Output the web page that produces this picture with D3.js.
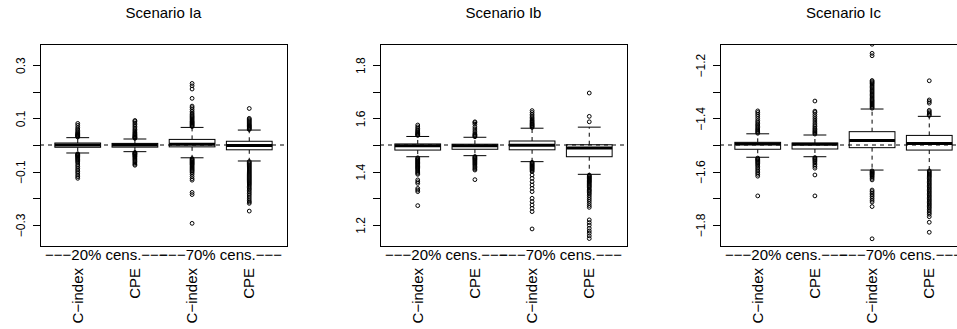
<!DOCTYPE html>
<html>
<head>
<meta charset="utf-8">
<script src="https://cdn.jsdelivr.net/npm/d3@7"></script>
<style>
  body { margin: 0; background: #fff; }
  text { font-family: 'Liberation Sans', Arial, Helvetica, sans-serif; fill: #000; }
</style>
</head>
<body>
<div id="chart"></div>
<script>
// data
const panelTitles = ['Scenario Ia', 'Scenario Ib', 'Scenario Ic'];
const categories = ['C\u2212index', 'CPE', 'C\u2212index', 'CPE'];
const censLabels = ['\u2212\u2212\u221220% cens.\u2212\u2212\u2212', '\u2212\u2212\u221270% cens.\u2212\u2212\u2212'];
const trueValues = [0, 1.5, -1.5];
const yDomains = [[-0.379, 0.379], [1.121, 1.879], [-1.879, -1.121]];
const yTicks = [
  [-0.3, -0.2, -0.1, 0, 0.1, 0.2, 0.3],
  [1.2, 1.3, 1.4, 1.5, 1.6, 1.7, 1.8],
  [-1.8, -1.7, -1.6, -1.5, -1.4, -1.3, -1.2]
];
const yTickLabels = [
  [-0.3, -0.1, 0.1, 0.3],
  [1.2, 1.4, 1.6, 1.8],
  [-1.8, -1.6, -1.4, -1.2]
];

// box stats: [lower whisker, q1, median, q3, upper whisker]
const statsIa = [
  [-0.030, -0.0085, 0.000, 0.0075, 0.0275],
  [-0.025, -0.008, 0.000, 0.006, 0.0225],
  [-0.048, -0.007, 0.003, 0.021, 0.066],
  [-0.060, -0.018, -0.002, 0.014, 0.056]
];
const statsIb = [
  [1.456, 1.481, 1.497, 1.504, 1.532],
  [1.460, 1.484, 1.497, 1.503, 1.529],
  [1.4375, 1.482, 1.499, 1.515, 1.563],
  [1.390, 1.456, 1.489, 1.501, 1.567]
];
const statsIc = [
  [-1.546, -1.516, -1.496, -1.490, -1.458],
  [-1.544, -1.515, -1.497, -1.4925, -1.4625],
  [-1.594, -1.510, -1.483, -1.450, -1.365],
  [-1.594, -1.519, -1.494, -1.464, -1.3925]
];

const outliersIa = [
  [0.030, 0.032, 0.034, 0.036, 0.038, 0.040, 0.043, 0.046, 0.050, 0.055, 0.060, 0.066, 0.074, 0.081,
   -0.033, -0.035, -0.037, -0.039, -0.041, -0.043, -0.046, -0.049, -0.052, -0.055, -0.059, -0.063,
   -0.068, -0.075, -0.081, -0.088, -0.094, -0.100, -0.106, -0.113, -0.119, -0.125],
  [0.025, 0.027, 0.029, 0.031, 0.034, 0.037, 0.040, 0.044, 0.048, 0.053, 0.058, 0.064, 0.070, 0.076,
   0.082, 0.088, 0.092, -0.028, -0.030, -0.032, -0.034, -0.036, -0.039, -0.042, -0.045, -0.049,
   -0.053, -0.057, -0.062, -0.067, -0.072, -0.076],
  [0.069, 0.072, 0.075, 0.078, 0.081, 0.084, 0.087, 0.090, 0.094, 0.098, 0.102, 0.106, 0.110, 0.115,
   0.120, 0.126, 0.133, 0.140, 0.146, 0.175, 0.210, 0.222, 0.231,
   -0.051, -0.054, -0.057, -0.060, -0.063, -0.066, -0.069, -0.072, -0.075, -0.079, -0.083, -0.087,
   -0.091, -0.095, -0.099, -0.104, -0.110, -0.118, -0.126, -0.132, -0.178, -0.186, -0.294],
  [0.058, 0.061, 0.064, 0.067, 0.070, 0.073, 0.076, 0.080, 0.084, 0.088, 0.092, 0.096, 0.100, 0.137,
   -0.062, -0.066, -0.070, -0.074, -0.078, -0.082, -0.086, -0.090, -0.094, -0.098, -0.102, -0.106,
   -0.110, -0.114, -0.118, -0.122, -0.126, -0.130, -0.134, -0.138, -0.142, -0.146, -0.150, -0.155,
   -0.160, -0.165, -0.170, -0.176, -0.182, -0.188, -0.195, -0.202, -0.209, -0.214, -0.219, -0.248]
];
const outliersIb = [
  [1.536, 1.538, 1.540, 1.543, 1.546, 1.549, 1.553, 1.557, 1.562, 1.568, 1.575,
   1.452, 1.449, 1.446, 1.443, 1.440, 1.437, 1.434, 1.431, 1.428, 1.425, 1.422, 1.419, 1.416, 1.413,
   1.410, 1.406, 1.402, 1.398, 1.394, 1.390, 1.369, 1.362, 1.356, 1.337, 1.331, 1.325, 1.2725],
  [1.531, 1.534, 1.537, 1.540, 1.545, 1.552, 1.560, 1.568, 1.578, 1.584, 1.587,
   1.457, 1.454, 1.451, 1.448, 1.445, 1.441, 1.437, 1.433, 1.429, 1.425, 1.420, 1.415, 1.410, 1.406, 1.370],
  [1.566, 1.569, 1.572, 1.575, 1.578, 1.581, 1.585, 1.589, 1.593, 1.598, 1.603, 1.609, 1.615, 1.622, 1.629,
   1.435, 1.432, 1.429, 1.426, 1.423, 1.420, 1.417, 1.414, 1.411, 1.408, 1.404, 1.400, 1.3875, 1.375,
   1.3625, 1.350, 1.3375, 1.325, 1.300, 1.2875, 1.275, 1.2625, 1.250, 1.185],
  [1.587, 1.6075, 1.695,
   1.387, 1.384, 1.381, 1.378, 1.375, 1.372, 1.369, 1.366, 1.363, 1.360, 1.356, 1.352, 1.348, 1.344,
   1.340, 1.334, 1.330, 1.326, 1.321, 1.316, 1.310, 1.303, 1.296, 1.289, 1.281, 1.273, 1.266,
   1.219, 1.209, 1.199, 1.1875, 1.1775, 1.169, 1.159, 1.149]
];
const outliersIc = [
  [-1.456, -1.452, -1.448, -1.444, -1.440, -1.435, -1.430, -1.425, -1.420, -1.414, -1.408, -1.400,
   -1.392, -1.385, -1.378, -1.372, -1.549, -1.552, -1.555, -1.558, -1.562, -1.566, -1.570, -1.575,
   -1.580, -1.586, -1.592, -1.598, -1.604, -1.610, -1.617, -1.691],
  [-1.459, -1.455, -1.451, -1.447, -1.442, -1.437, -1.431, -1.425, -1.418, -1.410, -1.402, -1.394,
   -1.386, -1.378, -1.373, -1.335, -1.547, -1.550, -1.554, -1.558, -1.563, -1.568, -1.574, -1.580,
   -1.587, -1.6125, -1.691],
  [-1.362, -1.358, -1.354, -1.350, -1.346, -1.342, -1.338, -1.334, -1.330, -1.325, -1.320, -1.315,
   -1.310, -1.305, -1.300, -1.295, -1.290, -1.285, -1.280, -1.275, -1.270, -1.266, -1.262, -1.258,
   -1.165, -1.156, -1.122,
   -1.597, -1.600, -1.603, -1.606, -1.609, -1.612, -1.616, -1.620, -1.625, -1.631, -1.669, -1.675,
   -1.681, -1.687, -1.693, -1.700, -1.707, -1.714, -1.731, -1.852],
  [-1.389, -1.385, -1.380, -1.375, -1.370, -1.343, -1.337, -1.331, -1.259,
   -1.597, -1.601, -1.605, -1.609, -1.613, -1.617, -1.621, -1.626, -1.631, -1.636, -1.641, -1.646,
   -1.651, -1.656, -1.661, -1.666, -1.671, -1.676, -1.681, -1.686, -1.691, -1.696, -1.701, -1.706,
   -1.711, -1.716, -1.721, -1.726, -1.731, -1.736, -1.742, -1.748, -1.754, -1.760, -1.769, -1.790, -1.8275]
];

const panelStats = [statsIa, statsIb, statsIc];
const panelOutliers = [outliersIa, outliersIb, outliersIc];

// layout
let W = 957, H = 329;
let plotLeft = 40, panelStep = 340, plotW = 247;
let plotTop = 44, plotBottom = 246;

let svg = d3.select('#chart').append('svg').attr('width', W).attr('height', H);
let defs = svg.append('defs');

panelTitles.forEach((title, i) => {
  let left = plotLeft + i * panelStep;
  let x = d3.scaleLinear().domain([0.34, 4.66]).range([left, left + plotW]);
  let y = d3.scaleLinear().domain(yDomains[i]).range([plotBottom, plotTop]);
  let g = svg.append('g');

  defs.append('clipPath').attr('id', 'clip' + i)
    .append('rect')
    .attr('x', left).attr('y', plotTop)
    .attr('width', plotW).attr('height', plotBottom - plotTop);

  // title
  g.append('text')
    .attr('x', left + plotW / 2)
    .attr('y', 18)
    .attr('text-anchor', 'middle')
    .attr('font-size', 15)
    .text(title);

  // y axis
  let fmt = d3.format('.1f');
  let labelled = yTickLabels[i].map(fmt);
  let axis = g.append('g')
    .attr('transform', `translate(${left}, 0)`)
    .call(d3.axisLeft(y).tickValues(yTicks[i]).tickSize(7).tickSizeOuter(0)
      .tickFormat(d => labelled.indexOf(fmt(d)) >= 0 ? fmt(d) : ''));
  axis.select('.domain').remove();
  axis.selectAll('line').attr('stroke', '#000').attr('shape-rendering', 'crispEdges');
  axis.selectAll('text')
    .attr('x', null).attr('dy', null)
    .attr('transform', 'translate(-15, 0) rotate(-90)')
    .attr('text-anchor', 'middle')
    .attr('font-size', 12)
    .attr('font-family', null)
    .attr('fill', '#000');

  // boxes
  let stats = panelStats[i];
  let outs = panelOutliers[i];
  let bw = x(0.8) - x(0);
  let sw = x(0.4) - x(0);
  let pg = g.append('g').attr('clip-path', `url(#clip${i})`);

  stats.forEach((s, j) => {
    let cx = x(j + 1);
    let bg = pg.append('g');

    // whiskers
    bg.append('line')
      .attr('x1', cx).attr('x2', cx)
      .attr('y1', y(s[3])).attr('y2', y(s[4]))
      .attr('stroke', '#000').attr('stroke-dasharray', '4,4');
    bg.append('line')
      .attr('x1', cx).attr('x2', cx)
      .attr('y1', y(s[1])).attr('y2', y(s[0]))
      .attr('stroke', '#000').attr('stroke-dasharray', '4,4');

    // staples
    [s[0], s[4]].forEach(v => {
      bg.append('line')
        .attr('x1', cx - sw / 2).attr('x2', cx + sw / 2)
        .attr('y1', y(v)).attr('y2', y(v))
        .attr('stroke', '#000');
    });

    // box
    bg.append('rect')
      .attr('x', cx - bw / 2)
      .attr('y', y(s[3]))
      .attr('width', bw)
      .attr('height', y(s[1]) - y(s[3]))
      .attr('fill', '#fff')
      .attr('stroke', '#000');

    // median
    bg.append('line')
      .attr('x1', cx - bw / 2).attr('x2', cx + bw / 2)
      .attr('y1', y(s[2])).attr('y2', y(s[2]))
      .attr('stroke', '#000').attr('stroke-width', 3);

    // outliers
    bg.selectAll('circle')
      .data(outs[j])
      .enter().append('circle')
      .attr('cx', cx)
      .attr('cy', d => y(d))
      .attr('r', 1.9)
      .attr('fill', 'none')
      .attr('stroke', '#000');
  });

  // reference line
  pg.append('line')
    .attr('x1', left).attr('x2', left + plotW)
    .attr('y1', y(trueValues[i])).attr('y2', y(trueValues[i]))
    .attr('stroke', '#000').attr('stroke-dasharray', '4,4');

  // frame
  g.append('rect')
    .attr('x', left).attr('y', plotTop)
    .attr('width', plotW).attr('height', plotBottom - plotTop)
    .attr('fill', 'none').attr('stroke', '#000')
    .attr('shape-rendering', 'crispEdges');

  // censoring labels
  censLabels.forEach((lab, k) => {
    g.append('text')
      .attr('x', x(1.5 + 2 * k))
      .attr('y', 260)
      .attr('text-anchor', 'middle')
      .attr('font-size', 15)
      .text(lab);
  });

  // category labels
  categories.forEach((c, j) => {
    g.append('text')
      .attr('transform', `translate(${x(j + 1) + 5}, 268) rotate(-90)`)
      .attr('text-anchor', 'end')
      .attr('font-size', 15)
      .text(c);
  });
});
</script>
</body>
</html>
